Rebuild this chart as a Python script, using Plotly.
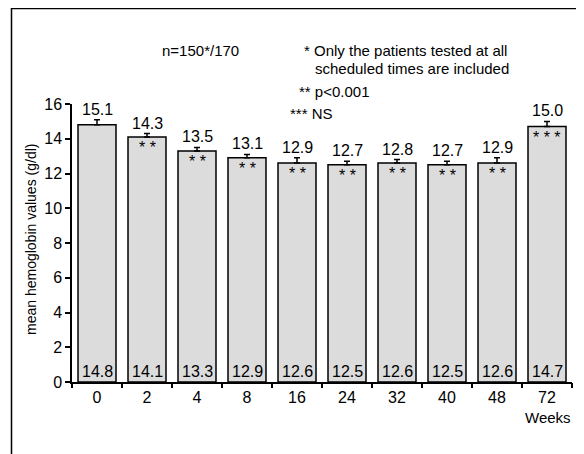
import plotly.graph_objects as go

weeks = ["0", "2", "4", "8", "16", "24", "32", "40", "48", "72"]
means = [14.8, 14.1, 13.3, 12.9, 12.6, 12.5, 12.6, 12.5, 12.6, 14.7]
upper = [15.1, 14.3, 13.5, 13.1, 12.9, 12.7, 12.8, 12.7, 12.9, 15.0]
signif = ["", "**", "**", "**", "**", "**", "**", "**", "**", "***"]

FONT = "Liberation Sans Narrow, Arial Narrow, Liberation Sans, sans-serif"
FS = 15
NS = 16
err = [round(u - m, 2) for u, m in zip(upper, means)]
xpos = list(range(len(weeks)))

# the page body adds an 8px offset; screen-space targets below
L, T, W, H = 72, 104, 500, 278
OFF = 8
FW, FH = 584 - OFF, 454 - OFF

fig = go.Figure()
fig.add_trace(go.Bar(
    x=xpos, y=means, width=0.76,
    marker=dict(color="#dcdcdc", line=dict(color="black", width=1.5)),
    error_y=dict(type="data", array=err, symmetric=False, arrayminus=[0]*len(err),
                 color="black", thickness=1.5, width=3),
    showlegend=False, hoverinfo="skip",
))

ann = []
for i, (m, u, s) in enumerate(zip(means, upper, signif)):
    ann.append(dict(x=i, y=u, text=f"{u:.1f}", showarrow=False, yanchor="bottom",
                    yshift=0, font=dict(size=NS, family=FONT, color="black")))
    ann.append(dict(x=i, y=0, text=f"{m:.1f}", showarrow=False, yanchor="bottom",
                    yshift=0, font=dict(size=NS, family=FONT, color="black")))
    if s:
        ann.append(dict(x=i, y=m, text=" ".join(s), showarrow=False, yanchor="top",
                        yshift=0, font=dict(size=16, family=FONT, color="black")))

texts = [
    ("n=150*/170", 160, 50, "left"),
    ("* Only the patients tested at all", 302, 50, "left"),
    ("scheduled times are included", 313, 69, "left"),
    ("** p<0.001", 297, 91, "left"),
    ("*** NS", 288, 113, "left"),
    ("Weeks", 573, 417, "right"),
]
for t, px, py, anc in texts:
    ann.append(dict(xref="paper", yref="paper", x=(px - L) / W, y=(T + H - py) / H,
                    text=t, showarrow=False, xanchor=anc, yanchor="middle",
                    font=dict(size=FS, family=FONT, color="black")))

ann.append(dict(xref="paper", yref="paper", x=(31 - L) / W, y=(T + H - 240) / H,
                text="mean hemoglobin values (g/dl)", showarrow=False, textangle=-90,
                xanchor="center", yanchor="middle",
                font=dict(size=14, family=FONT, color="black")))

bx = (11.5 - L) / W
by = (T + H - 8.5) / H
fig.update_layout(
    width=FW, height=FH,
    margin=dict(l=L - OFF, r=FW - (L - OFF) - W, t=T - OFF, b=FH - (T - OFF) - H,
                autoexpand=False),
    paper_bgcolor="white", plot_bgcolor="white",
    font=dict(family=FONT, color="black", size=FS),
    annotations=ann,
    shapes=[dict(type="path", xref="paper", yref="paper",
                 path=f"M {bx} -2 L {bx} {by} L 1.5 {by}",
                 line=dict(color="black", width=1.5))],
    xaxis=dict(range=[-0.5, 9.5], tickvals=xpos, ticktext=weeks, showline=True,
               linecolor="black", linewidth=1.5, ticks="", showgrid=False,
               zeroline=False, automargin=False,
               tickfont=dict(size=NS, family=FONT)),
    xaxis2=dict(range=[-0.5, 9.5], overlaying="x", anchor="y",
                tickvals=[i - 0.5 for i in range(len(weeks) + 1)], ticktext=[""] * (len(weeks) + 1),
                side="bottom", ticks="outside", ticklen=5, tickwidth=1.5, tickcolor="black",
                showline=False, showgrid=False, zeroline=False, automargin=False),
    yaxis=dict(range=[0, 16], tickvals=list(range(0, 17, 2)), showline=True,
               linecolor="black", linewidth=1.5, ticks="outside", ticklen=5,
               tickwidth=1.5, tickcolor="black", showgrid=False, zeroline=False,
               automargin=False, tickfont=dict(size=NS, family=FONT)),
)
fig.add_trace(go.Scatter(x=[0], y=[0], xaxis="x2", mode="markers",
                         marker=dict(opacity=0), showlegend=False, hoverinfo="skip"))
fig.write_html("out.html")
